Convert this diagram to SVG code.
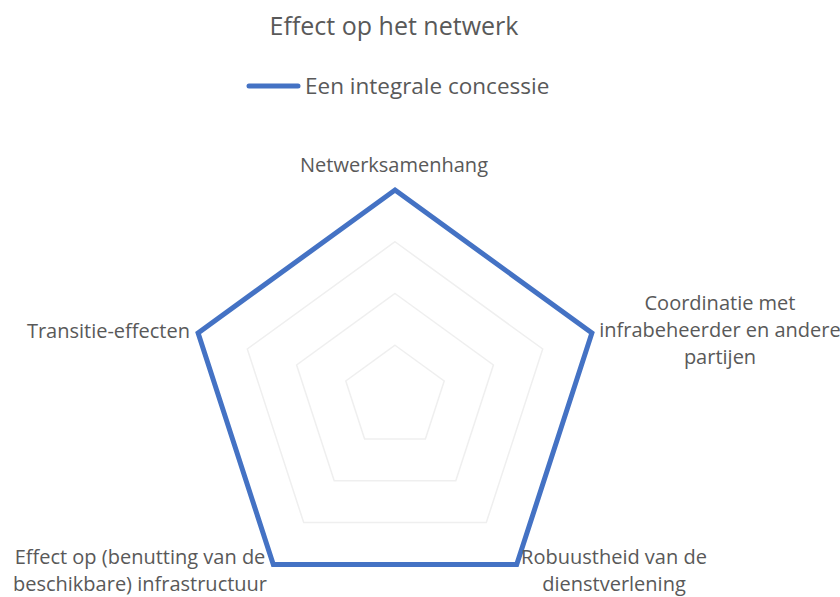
<svg xmlns="http://www.w3.org/2000/svg" width="840" height="597" viewBox="0 0 840 597">
<style>
text{font-family:"Open Sans","Noto Sans","Liberation Sans",sans-serif;fill:#595959}
.t{font-size:25px}
.lg{font-size:22.5px}
.l{font-size:20px}
.grid{fill:none;stroke:#efefef;stroke-width:1.5}
.series{fill:none;stroke:#4472C4;stroke-width:5;stroke-linejoin:miter}
</style>
<rect width="840" height="597" fill="#ffffff"/>
<text class="t" x="394" y="35" text-anchor="middle">Effect op het netwerk</text>
<g id="legend">
<line x1="249" y1="86" x2="298" y2="86" stroke="#4472C4" stroke-width="5" stroke-linecap="round"/>
<text class="lg" x="305" y="94">Een integrale concessie</text>
</g>
<g id="grid">
<polygon class="grid" points="395,345.25 444.2,381.0 425.4,438.9 364.6,438.9 345.8,381.0"/>
<polygon class="grid" points="395,293.5 493.4,365.0 455.8,480.7 334.2,480.7 296.6,365.0"/>
<polygon class="grid" points="395,241.75 542.7,349.0 486.3,522.6 303.7,522.6 247.3,349.0"/>
</g>
<g id="connectors">
<polygon class="series" points="395,190 591.9,333 516.7,564.5 273.3,564.5 198.1,333"/>
</g>
<g id="n1"><text class="l" x="394" y="172" text-anchor="middle">Netwerksamenhang</text></g>
<g id="n2"><text class="l" text-anchor="middle"><tspan x="720" y="310">Coordinatie met</tspan><tspan x="720" y="337">infrabeheerder en andere</tspan><tspan x="720" y="364">partijen</tspan></text></g>
<g id="n3"><text class="l" text-anchor="middle"><tspan x="614" y="564">Robuustheid van de</tspan><tspan x="614" y="591">dienstverlening</tspan></text></g>
<g id="n4"><text class="l" text-anchor="middle"><tspan x="140" y="564">Effect op (benutting van de</tspan><tspan x="140" y="591">beschikbare) infrastructuur</tspan></text></g>
<g id="n5"><text class="l" x="190" y="338" text-anchor="end">Transitie-effecten</text></g>
</svg>
